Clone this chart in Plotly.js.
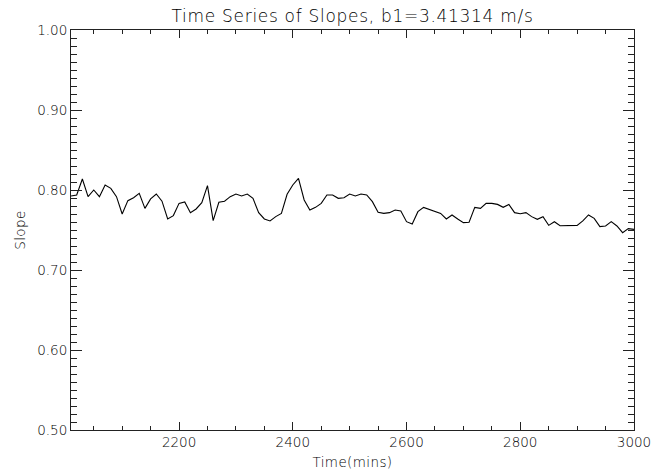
<!DOCTYPE html>
<html>
<head>
<meta charset="utf-8">
<script src="https://cdn.plot.ly/plotly-3.0.1.min.js"></script>
<style>
  html, body { margin: 0; padding: 0; background: #ffffff; }
  #chart { width: 667px; height: 473px; }
  #chart .gtitle { letter-spacing: 0.7px; }
  #chart .xtitle, #chart .ytitle { letter-spacing: 0.4px; }
</style>
</head>
<body>
<div id="chart"></div>
<script>
var chartTitle = "Time Series of Slopes, b1=3.41314 m/s";
var xLabel = "Time(mins)";
var yLabel = "Slope";

var timeMins = [
  2010, 2020, 2030, 2040, 2050, 2060, 2070, 2080, 2090, 2100,
  2110, 2120, 2130, 2140, 2150, 2160, 2170, 2180, 2190, 2200,
  2210, 2220, 2230, 2240, 2250, 2260, 2270, 2280, 2290, 2300,
  2310, 2320, 2330, 2340, 2350, 2360, 2370, 2380, 2390, 2400,
  2410, 2420, 2430, 2440, 2450, 2460, 2470, 2480, 2490, 2500,
  2510, 2520, 2530, 2540, 2550, 2560, 2570, 2580, 2590, 2600,
  2610, 2620, 2630, 2640, 2650, 2660, 2670, 2680, 2690, 2700,
  2710, 2720, 2730, 2740, 2750, 2760, 2770, 2780, 2790, 2800,
  2810, 2820, 2830, 2840, 2850, 2860, 2870, 2880, 2890, 2900,
  2910, 2920, 2930, 2940, 2950, 2960, 2970, 2980, 2990, 3000
];

var slopes = [
  0.7925, 0.7938, 0.8138, 0.7917, 0.8000, 0.7917, 0.8063, 0.8020, 0.7917, 0.7700,
  0.7867, 0.7904, 0.7958, 0.7770, 0.7888, 0.7950, 0.7860, 0.7638, 0.7680, 0.7833,
  0.7850, 0.7717, 0.7763, 0.7842, 0.8054, 0.7617, 0.7846, 0.7860, 0.7917, 0.7950,
  0.7925, 0.7950, 0.7896, 0.7717, 0.7638, 0.7613, 0.7667, 0.7708, 0.7946, 0.8063,
  0.8146, 0.7875, 0.7750, 0.7783, 0.7833, 0.7938, 0.7938, 0.7896, 0.7904, 0.7950,
  0.7925, 0.7950, 0.7938, 0.7854, 0.7721, 0.7708, 0.7717, 0.7750, 0.7738, 0.7604,
  0.7575, 0.7729, 0.7783, 0.7758, 0.7742, 0.7708, 0.7638, 0.7688, 0.7638, 0.7592,
  0.7596, 0.7783, 0.7770, 0.7833, 0.7833, 0.7820, 0.7783, 0.7820, 0.7717, 0.7704,
  0.7717, 0.7667, 0.7633, 0.7667, 0.7558, 0.7604, 0.7554, 0.7554, 0.7563, 0.7558,
  0.7613, 0.7688, 0.7646, 0.7542, 0.7550, 0.7604, 0.7550, 0.7467, 0.7517, 0.7508
];

var xTickVals = [2200, 2400, 2600, 2800, 3000];
var xTickText = ["2200", "2400", "2600", "2800", "3000"];
var yTickVals = [0.5, 0.6, 0.7, 0.8, 0.9, 1.0];
var yTickText = ["0.50", "0.60", "0.70", "0.80", "0.90", "1.00"];

var fontFam = "DejaVu Sans, sans-serif";
var fontW = 200;
var axisColor = "#222222";

var trace = {
  x: timeMins,
  y: slopes,
  type: "scatter",
  mode: "lines",
  line: { color: "#000000", width: 1.1 },
  hoverinfo: "skip",
  showlegend: false
};

var layout = {
  width: 667,
  height: 473,
  paper_bgcolor: "#ffffff",
  plot_bgcolor: "#ffffff",
  margin: { l: 71, r: 33, t: 30, b: 43, pad: 0 },
  font: { family: fontFam, color: "#000000", size: 13.5, weight: fontW },
  title: {
    text: chartTitle,
    font: { family: fontFam, size: 17, color: "#000000", weight: fontW },
    xref: "paper", x: 0.5, xanchor: "center",
    yref: "container", y: 1 - 16 / 473, yanchor: "middle"
  },
  xaxis: {
    range: [2010, 3000],
    tickmode: "array",
    tickvals: xTickVals,
    ticktext: xTickText,
    ticks: "inside",
    ticklen: 8,
    tickwidth: 1,
    tickcolor: axisColor,
    mirror: "allticks",
    showline: true,
    linecolor: axisColor,
    linewidth: 1,
    showgrid: false,
    zeroline: false,
    tickfont: { family: fontFam, size: 13.5, color: "#000000", weight: fontW },
    minor: { dtick: 50, tick0: 2000, ticks: "inside", ticklen: 4, tickcolor: axisColor, tickwidth: 1, showgrid: false },
    title: { text: xLabel, font: { family: fontFam, size: 13.5, color: "#000000", weight: fontW }, standoff: 8 },
    automargin: false,
    fixedrange: true
  },
  yaxis: {
    range: [0.5, 1.0],
    tickmode: "array",
    tickvals: yTickVals,
    ticktext: yTickText,
    ticks: "inside",
    ticklen: 11,
    tickwidth: 1,
    tickcolor: axisColor,
    mirror: "allticks",
    showline: true,
    linecolor: axisColor,
    linewidth: 1,
    showgrid: false,
    zeroline: false,
    tickfont: { family: fontFam, size: 13.5, color: "#000000", weight: fontW },
    minor: { dtick: 0.01, tick0: 0.5, ticks: "inside", ticklen: 6, tickcolor: axisColor, tickwidth: 1, showgrid: false },
    title: { text: yLabel, font: { family: fontFam, size: 13.5, color: "#000000", weight: fontW }, standoff: 8 },
    automargin: false,
    fixedrange: true
  }
};

Plotly.newPlot("chart", [trace], layout, { staticPlot: true, displayModeBar: false });
</script>
</body>
</html>
